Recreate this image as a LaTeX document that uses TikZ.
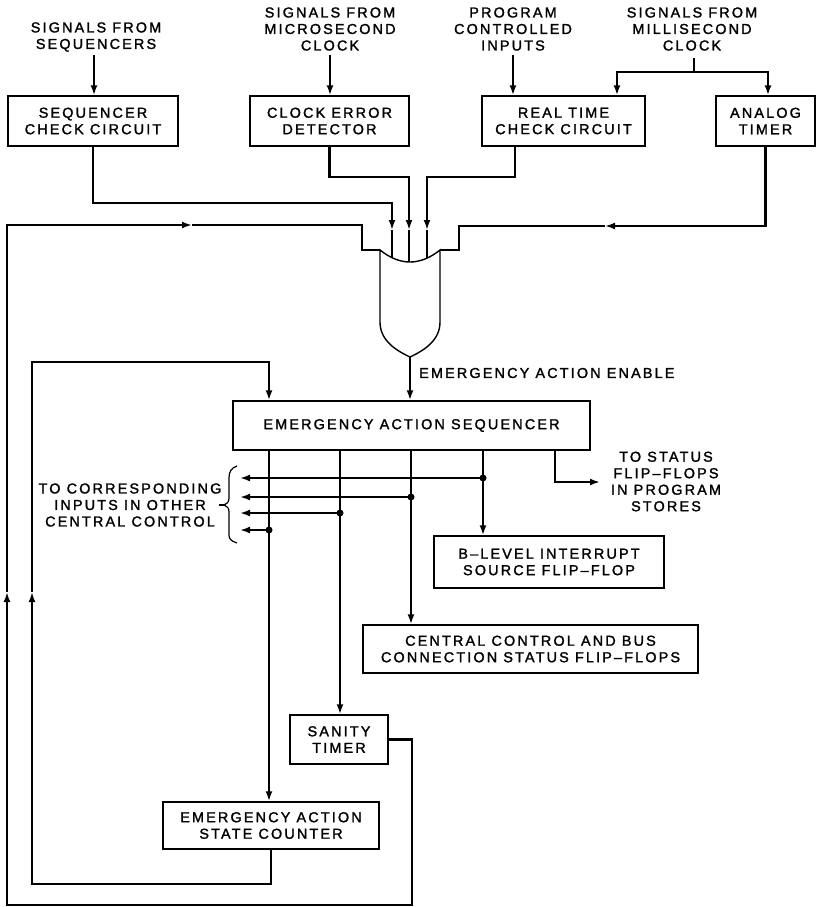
\documentclass[tikz,border=0pt]{standalone}
\usepackage{fontspec}
\setmainfont{Liberation Sans}[LetterSpace=15,FakeBold=1.6]
\usetikzlibrary{arrows.meta,calc}
\begin{document}
\begin{tikzpicture}[x=1pt,y=-1pt,
  txt/.style={align=center, inner sep=0pt, font=\fontsize{14.4}{16.5}\selectfont},
  box/.style={txt, draw, line width=1.4pt},
  wire/.style={line width=2.4pt},
  arr/.style={wire, -{Latex[length=10pt,width=7pt]}},
  jdot/.style={circle, fill, inner sep=0pt, minimum size=7pt},
  gateline/.style={line width=1.4pt},
  bracel/.style={line width=1.2pt}]
\useasboundingbox (0,0) rectangle (816,907);

% input labels
\node[txt] (lseq) at (96,37) {SIGNALS FROM\\SEQUENCERS};
\node[txt] (lmic) at (330,29) {SIGNALS FROM\\MICROSECOND\\CLOCK};
\node[txt] (lprg) at (513,29) {PROGRAM\\CONTROLLED\\INPUTS};
\node[txt] (lmil) at (692,29) {SIGNALS FROM\\MILLISECOND\\CLOCK};

% top boxes
\node[box, minimum width=170pt, minimum height=50pt] (seq) at (93,121) {SEQUENCER\\CHECK CIRCUIT};
\node[box, minimum width=159pt, minimum height=50pt] (ced) at (329.5,121) {CLOCK ERROR\\DETECTOR};
\node[box, minimum width=163pt, minimum height=50pt] (rtc) at (563.5,121) {REAL TIME\\CHECK CIRCUIT};
\node[box, minimum width=99pt, minimum height=50pt] (at) at (765.5,121) {ANALOG\\TIMER};

% lower boxes
\node[box, minimum width=357pt, minimum height=49pt] (eas) at (411.5,425.5) {EMERGENCY ACTION SEQUENCER};
\node[box, minimum width=230pt, minimum height=52pt] (bl) at (549,562) {B–LEVEL INTERRUPT\\SOURCE FLIP–FLOP};
\node[box, minimum width=335pt, minimum height=48pt] (cc) at (530.5,649) {CENTRAL CONTROL AND BUS\\CONNECTION STATUS FLIP–FLOPS};
\node[box, minimum width=98pt, minimum height=49pt] (st) at (339,739.5) {SANITY\\TIMER};
\node[box, minimum width=216pt, minimum height=47pt] (sc) at (271,825.5) {EMERGENCY ACTION\\STATE COUNTER};

% other labels
\node[txt, anchor=west] (lenable) at (419,373) {EMERGENCY ACTION ENABLE};
\node[txt] (lstatus) at (666,481.5) {TO STATUS\\FLIP–FLOPS\\IN PROGRAM\\STORES};
\node[txt] (lcorr) at (130,505) {TO CORRESPONDING\\INPUTS IN OTHER\\CENTRAL CONTROL};

% input arrows to top boxes
\coordinate (s1) at (94,55);
\coordinate (s2) at (330,55);
\coordinate (s3) at (513,55);
\draw[arr] (s1) -- (s1 |- seq.north);
\draw[arr] (s2) -- (s2 |- ced.north);
\draw[arr] (s3) -- (s3 |- rtc.north);
\coordinate (m0) at (694,58);
\coordinate (mj) at (694,72);
\coordinate (xm1) at (617,0);
\coordinate (xm2) at (768,0);
\draw[wire] (m0) -- (mj);
\draw[arr] (mj) -| (rtc.north -| xm1);
\draw[arr] (mj) -| (at.north -| xm2);

% gate
\coordinate (gTL) at (380,250);
\coordinate (gTR) at (440,250);
\coordinate (gBot) at (410,357);
\draw[gateline] (gTL) .. controls (390,258) and (400,262) .. (410,262)
  .. controls (420,262) and (430,258) .. (gTR) -- (440,322)
  .. controls (440,340) and (425,350) .. (gBot)
  .. controls (395,350) and (380,340) .. (380,322) -- cycle;

% gate inputs
\coordinate (i1a) at (392,203); \coordinate (i1b) at (392,230); \coordinate (i1c) at (392,257.7);
\coordinate (i2a) at (409,177); \coordinate (i2b) at (409,230); \coordinate (i2c) at (409,262);
\coordinate (i3a) at (427,177); \coordinate (i3b) at (427,230); \coordinate (i3c) at (427,258);
\coordinate (x515) at (515,0);
\draw[arr] (seq.south) |- (i1a) -- (i1b);
\draw[wire] (i1b) -- (i1c);
\draw[arr] (ced.south) |- (i2a) -- (i2b);
\draw[wire] (i2b) -- (i2c);
\draw[arr] (rtc.south -| x515) |- (i3a) -- (i3b);
\draw[wire] (i3b) -- (i3c);

% analog timer feedback
\coordinate (fa) at (605,226);
\coordinate (fb) at (459,226);
\coordinate (fc) at (459,250);
\draw[arr] (at.south) |- (fa);
\draw[wire] (fa) -- (fb) -- (fc) -- (gTR);

% outer loop from sanity timer
\coordinate (o1) at (412,905);
\coordinate (o2) at (7,905);
\coordinate (o3) at (7,592);
\coordinate (o4) at (7,225);
\coordinate (o5) at (192,225);
\coordinate (o6) at (362,225);
\coordinate (o7) at (362,250);
\draw[arr] (st.east) -| (o1) -- (o2) -- (o3);
\draw[arr] (o3) -- (o4) -- (o5);
\draw[wire] (o5) -- (o6) -- (o7) -- (gTL);

% inner loop from state counter
\coordinate (p2) at (32,884);
\coordinate (p3) at (32,592);
\coordinate (p4) at (32,362);
\coordinate (xp5) at (269,0);
\draw[arr] (sc.south) |- (p2) -- (p3);
\draw[arr] (p3) -- (p4) -| (eas.north -| xp5);

% gate output
\draw[arr] (gBot) -- (gBot |- eas.north);

% sequencer outputs
\coordinate (xa) at (269,0);
\coordinate (xb) at (340,0);
\coordinate (xc) at (411,0);
\coordinate (xd) at (483,0);
\coordinate (xe) at (555,0);
\coordinate (xl) at (240,0);
\coordinate (te) at (600,482);
\draw[arr] (eas.south -| xa) -- (sc.north -| xa);
\draw[arr] (eas.south -| xb) -- (st.north -| xb);
\draw[arr] (eas.south -| xc) -- (cc.north -| xc);
\draw[arr] (eas.south -| xd) -- (bl.north -| xd);
\draw[arr] (eas.south -| xe) |- (te);

\node[jdot] (dd) at (483,478) {};
\node[jdot] (dc) at (411,497) {};
\node[jdot] (db) at (340,513) {};
\node[jdot] (da) at (269,530) {};
\draw[arr] (dd.center) -- (dd -| xl);
\draw[arr] (dc.center) -- (dc -| xl);
\draw[arr] (db.center) -- (db -| xl);
\draw[arr] (da.center) -- (da -| xl);

% brace
\draw[bracel] (237,466) .. controls (231,468) and (229,472) .. (229,478) -- (229,498)
  .. controls (229,502) and (227,504) .. (224,505)
  .. controls (227,506) and (229,508) .. (229,512) -- (229,535)
  .. controls (229,539) and (231,541) .. (237,543);
\coordinate (br1) at (219,505);
\coordinate (br2) at (226,505);
\draw[bracel] (br1) -- (br2);
\end{tikzpicture}
\end{document}
